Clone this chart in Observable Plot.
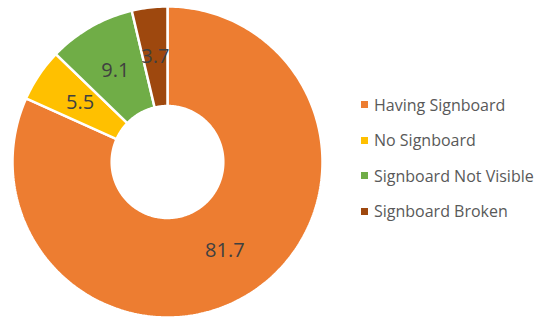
<!DOCTYPE html>
<html>
<head>
<meta charset="utf-8">
<script src="https://cdn.jsdelivr.net/npm/d3@7"></script>
<script src="https://cdn.jsdelivr.net/npm/@observablehq/plot@0.6"></script>
<style>
  html, body { margin: 0; padding: 0; background: #fff; }
  #wrap { position: relative; width: 544px; height: 322px; overflow: hidden; }
  #legend { position: absolute; left: 361px; top: 87px; }
  .lg-swatch { height: 35.5px !important; padding-bottom: 0 !important; display: flex !important; align-items: center !important; }
  .lg-swatch svg { margin-right: 6px !important; }
  .lg-swatches { font-family: "Open Sans", sans-serif !important; font-size: 16px !important; color: #595959 !important; margin: 0 !important; min-height: 0 !important; }
</style>
</head>
<body>
<div id="wrap"><div id="chart"></div><div id="legend"></div></div>
<script>
const categories = ["Having Signboard", "No Signboard", "Signboard Not Visible", "Signboard Broken"];
const values = [81.7, 5.5, 9.1, 3.7];
const labels = ["81.7", "5.5", "9.1", "3.7"];
const colors = ["#ED7D31", "#FFC000", "#70AD47", "#9E480E"];

const innerR = 0.36;
const outerR = 1;

const pie = d3.pie().sort(null).value(d => d.value).startAngle(0).endAngle(2 * Math.PI);
const arcs = pie(categories.map((c, i) => ({category: c, value: values[i], label: labels[i]})));

// ring polygons from the pie angles
const pts = [];
for (const a of arcs) {
  const n = Math.max(4, Math.ceil((a.endAngle - a.startAngle) / (Math.PI / 180)));
  for (let k = 0; k <= n; k++) {
    const t = a.startAngle + (a.endAngle - a.startAngle) * k / n;
    pts.push({category: a.data.category, x: outerR * Math.sin(t), y: outerR * Math.cos(t)});
  }
  for (let k = n; k >= 0; k--) {
    const t = a.startAngle + (a.endAngle - a.startAngle) * k / n;
    pts.push({category: a.data.category, x: innerR * Math.sin(t), y: innerR * Math.cos(t)});
  }
}
const midR = (innerR + outerR) / 2;
const labelData = arcs.map(a => {
  const m = (a.startAngle + a.endAngle) / 2;
  return {label: a.data.label, x: midR * Math.sin(m), y: midR * Math.cos(m)};
});

const colorScale = {domain: categories, range: colors};

const chart = Plot.plot({
  width: 544,
  height: 322,
  margin: 0,
  style: {fontFamily: "'Open Sans', sans-serif", background: "white"},
  x: {domain: [-1, 1], range: [12, 322], axis: null},
  y: {domain: [-1, 1], range: [317, 6], axis: null},
  color: colorScale,
  marks: [
    Plot.line(pts, {x: "x", y: "y", z: "category", fill: "category", stroke: "white", strokeWidth: 2.5, curve: "linear-closed", strokeLinejoin: "miter"}),
    Plot.text(labelData, {x: "x", y: "y", text: "label", fontSize: 20, fill: "#404040"})
  ]
});
document.getElementById("chart").appendChild(chart);

const legend = Plot.legend({
  color: colorScale,
  legend: "swatches",
  columns: 1,
  swatchSize: 7,
  className: "lg"
});
document.getElementById("legend").appendChild(legend);
</script>
</body>
</html>
